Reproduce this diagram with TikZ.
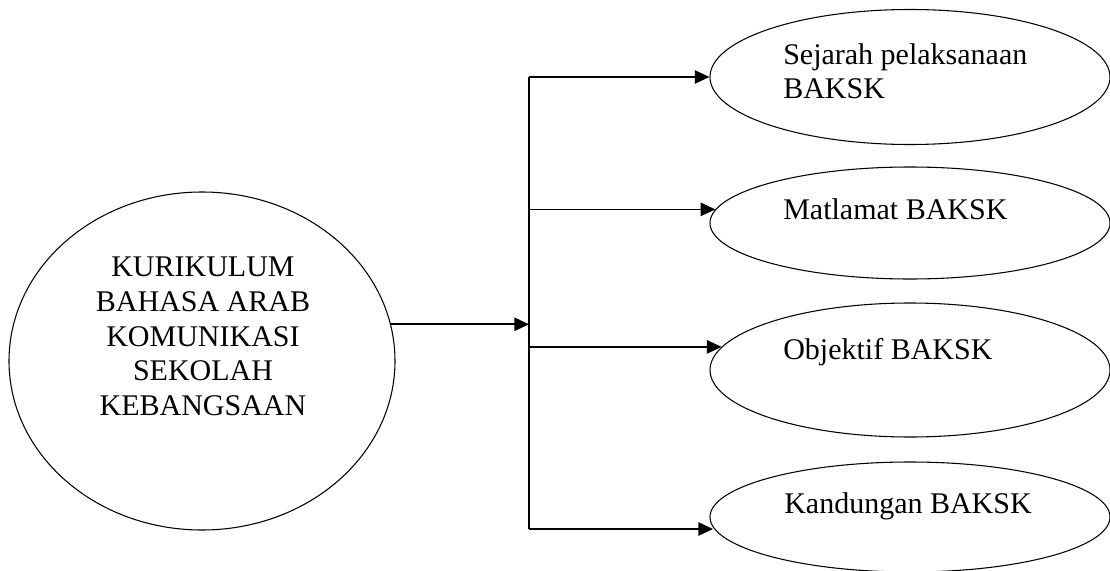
\documentclass[tikz,border=0pt]{standalone}
\usepackage{fontspec}
\setmainfont{Liberation Serif}
\usetikzlibrary{shapes.geometric,arrows.meta}

\tikzset{
  bubble/.style={draw, ellipse, line width=0.8pt, inner sep=0pt},
  linkline/.style={line width=1.2pt},
  linkarrow/.style={line width=1.2pt, -{Triangle[length=11pt,width=10pt]}},
  bubbletext/.style={inner sep=0pt, font=\fontsize{22.5}{26}\selectfont},
}

\begin{document}
\begin{tikzpicture}[x=0.75pt,y=0.75pt,yscale=-1,xscale=1]
    \useasboundingbox (0,0) rectangle (1110,571);

    %Shape: Ellipse [id:kurikulum]
    \node [bubble, minimum width=289.5pt, minimum height=253.5pt] (kurikulum) at (202,361) {};
    %Shape: Ellipse [id:sejarah]
    \node [bubble, minimum width=300pt, minimum height=101.25pt] (sejarah) at (910,77) {};
    %Shape: Ellipse [id:matlamat]
    \node [bubble, minimum width=300pt, minimum height=84pt] (matlamat) at (910,223) {};
    %Shape: Ellipse [id:objektif]
    \node [bubble, minimum width=300pt, minimum height=100.5pt] (objektif) at (910,370) {};
    %Shape: Ellipse [id:kandungan]
    \node [bubble, minimum width=300pt, minimum height=82.5pt] (kandungan) at (910,517) {};

    %Straight Lines [id:trunk]
    \coordinate (jTop) at (529,77);
    \coordinate (jBot) at (529,529);
    \draw [linkline] (jTop) -- (jBot);
    %Straight Lines [id:main arrow]
    \draw [linkarrow] (kurikulum.11) -- (kurikulum.11 -| jTop);
    %Straight Lines [id:branches]
    \draw [linkarrow] (jTop) -- (sejarah.west);
    \draw [linkarrow] (jTop |- matlamat.176.5) -- (matlamat.176.5);
    \draw [linkarrow] (jTop |- objektif.173.4) -- (objektif.173.4);
    \draw [linkarrow] (jBot) -- (jBot -| kandungan.183.5);

    % Text Node
    \node [bubbletext, align=center, anchor=north] (kurikulumText) at (203,257) {KURIKULUM\\BAHASA ARAB\\KOMUNIKASI\\SEKOLAH\\KEBANGSAAN};
    % Text Node
    \node [bubbletext, align=left, anchor=north west] (sejarahText) at (783,43) {Sejarah pelaksanaan\\BAKSK};
    % Text Node
    \node [bubbletext, anchor=base west] (matlamatText) at (783,219) {Matlamat BAKSK};
    % Text Node
    \node [bubbletext, anchor=base west] (objektifText) at (783,359) {Objektif BAKSK};
    % Text Node
    \node [bubbletext, anchor=base west] (kandunganText) at (784,513) {Kandungan BAKSK};

\end{tikzpicture}
\end{document}
